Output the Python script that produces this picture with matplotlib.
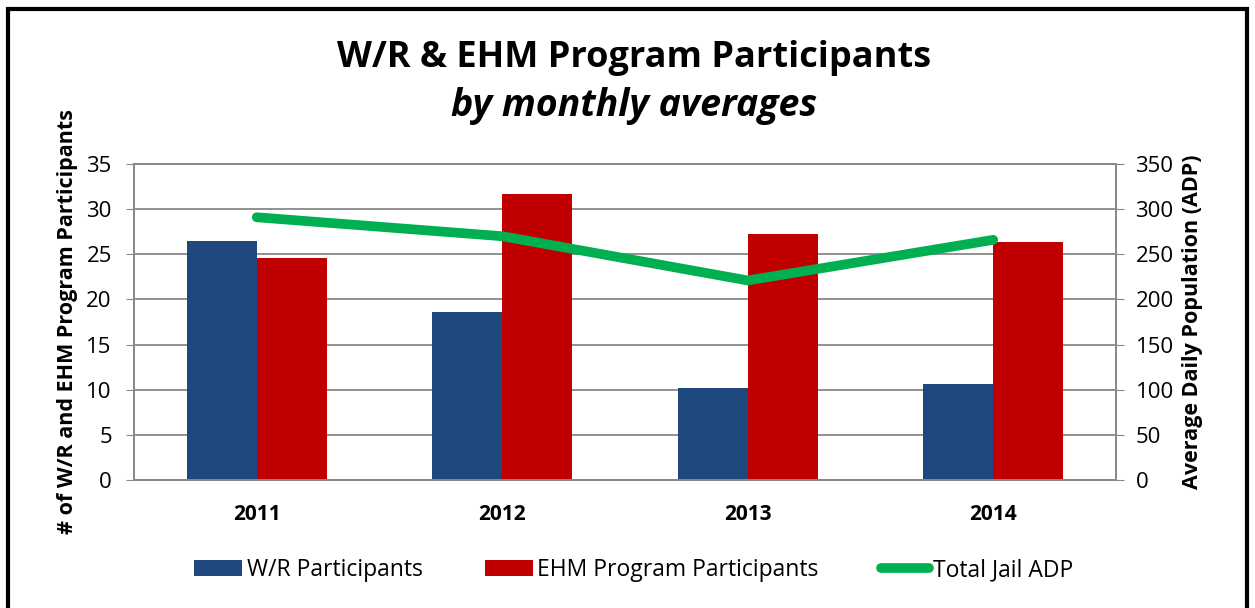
#!/usr/bin/env python3

import matplotlib.pyplot as plt
import numpy as np
from matplotlib.patches import Rectangle

years = ["2011", "2012", "2013", "2014"]
wr_participants = [26.5, 18.6, 10.2, 10.6]
ehm_participants = [24.6, 31.7, 27.2, 26.4]
total_jail_adp = [291, 270, 221, 266]

plt.rcParams["font.family"] = ["Open Sans", "DejaVu Sans"]

fig = plt.figure(figsize=(12.55, 6.08), dpi=100)
ax = fig.add_axes([134 / 1255, 1 - 480 / 608, 982 / 1255, 316 / 608])
ax2 = ax.twinx()

x = np.arange(len(years))
w = 0.285
ax.bar(x - w / 2, wr_participants, w, color="#1F497D", label="W/R Participants", zorder=2)
ax.bar(x + w / 2, ehm_participants, w, color="#C00000", label="EHM Program Participants", zorder=2)
ax2.plot(x, total_jail_adp, color="#00B050", lw=7, solid_capstyle="round",
         solid_joinstyle="miter", label="Total Jail ADP")

ax.set_xlim(-0.5, 3.5)
ax.set_ylim(0, 35)
ax.set_yticks(range(0, 36, 5))
ax2.set_ylim(0, 350)
ax2.set_yticks(range(0, 351, 50))
ax.set_xticks(x)
ax.set_xticklabels(years, fontweight="bold", fontsize=15)
ax.tick_params(axis="x", length=0, pad=17)
ax.tick_params(axis="y", labelsize=16, length=6, color="#888888", pad=10)
ax2.tick_params(axis="y", labelsize=16, length=6, color="#888888", pad=8)
ax.grid(axis="y", color="#888888", lw=1.3, zorder=0)
ax.set_axisbelow(True)
for a in (ax, ax2):
    for s in a.spines.values():
        s.set_color("#888888")
        s.set_linewidth(1.3)

ax.set_ylabel("# of W/R and EHM Program Participants", fontweight="bold", fontsize=15.5, labelpad=6)
ax2.set_ylabel("Average Daily Population (ADP)", fontweight="bold", fontsize=15.5, labelpad=6)

fig.text(0.505, 1 - 58 / 608, "W/R & EHM Program Participants", ha="center", va="center",
         fontsize=26, fontweight="bold")
fig.text(0.505, 1 - 106 / 608, "by monthly averages", ha="center", va="center",
         fontsize=27, fontweight="bold", style="italic")

h1, l1 = ax.get_legend_handles_labels()
h2, l2 = ax2.get_legend_handles_labels()
fig.legend(h1 + h2, l1 + l2, loc="center", bbox_to_anchor=(0.505, 1 - 570 / 608), ncol=3,
           frameon=False, fontsize=16.5, handlelength=2.1, handletextpad=0.2, columnspacing=2.7)

fig.patches.append(Rectangle((8 / 1255, -0.05), 1239 / 1255, 1.05 - 9 / 608, transform=fig.transFigure,
                             fill=False, edgecolor="black", lw=3))

fig.savefig("out.png", dpi=100)
